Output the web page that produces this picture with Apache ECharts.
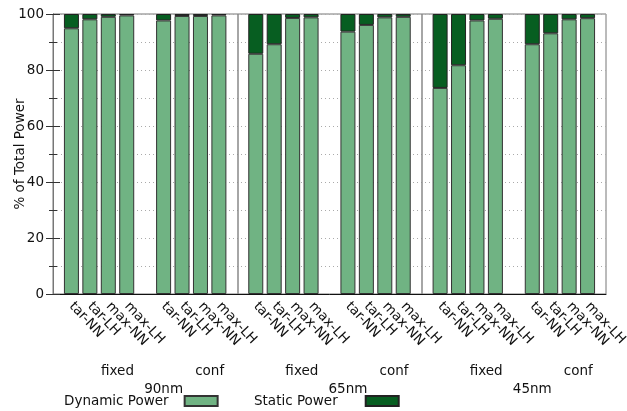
<!DOCTYPE html>
<html>
<head>
<meta charset="utf-8">
<script src="https://cdn.jsdelivr.net/npm/echarts@6/dist/echarts.min.js"></script>
<style>
  html, body { margin: 0; padding: 0; background: #fff; }
  #chart { width: 627px; height: 411px; }
</style>
</head>
<body>
<div id="chart"></div>
<script>
const configs = ['tar-NN', 'tar-LH', 'max-NN', 'max-LH'];
const modes = ['fixed', 'conf'];
const nodes = ['90nm', '65nm', '45nm'];

// % of total power, in order node -> mode -> config
const dynamicPower = [
  94.9, 98.1, 99.0, 99.5, 97.7, 99.3, 99.3, 99.5,
  85.8, 89.2, 98.6, 98.8, 93.7, 96.1, 98.8, 99.0,
  73.6, 81.7, 97.7, 98.3, 89.2, 93.1, 98.1, 98.5
];
const staticPower = [
  5.1, 1.9, 1.0, 0.5, 2.3, 0.7, 0.7, 0.5,
  14.2, 10.8, 1.4, 1.2, 6.3, 3.9, 1.2, 1.0,
  26.4, 18.3, 2.3, 1.7, 10.8, 6.9, 1.9, 1.5
];

const yTicks = [0, 20, 40, 60, 80, 100];

const font = 'DejaVu Sans';
const textColor = '#111';
const dynColor = '#70b383';
const statColor = '#075e21';

// slot layout: 31 slots, node n / mode s / config j sits at 10n + 5s + 1 + j
const slotCount = 31;
const slots = Array.from({ length: slotCount }, (_, i) => String(i));
const slotLabel = {};
const dynData = slots.map(() => '-');
const statData = slots.map(() => '-');
const modeLabel = {};
const nodeLabel = {};
nodes.forEach((node, n) => {
  nodeLabel[10 * n + 6] = node;
  modes.forEach((mode, s) => {
    modeLabel[10 * n + 5 * s + 3.5] = mode;
    configs.forEach((cfg, j) => {
      const k = n * 8 + s * 4 + j;
      const pos = 10 * n + 5 * s + 1 + j;
      slotLabel[pos] = cfg;
      dynData[pos] = dynamicPower[k];
      statData[pos] = staticPower[k];
    });
  });
});

const chart = echarts.init(document.getElementById('chart'));

const labelAxis = (offset, step, map) => ({
  type: 'value',
  position: 'bottom',
  offset: offset,
  min: 0,
  max: slotCount - 1,
  interval: step,
  axisLine: { show: false },
  axisTick: { show: false },
  splitLine: { show: false },
  axisLabel: {
    color: textColor,
    fontFamily: font,
    fontSize: 13.5,
    showMinLabel: true,
    showMaxLabel: true,
    formatter: v => map[v] || ''
  }
});

chart.setOption({
  animation: false,
  textStyle: { fontFamily: font },
  grid: {
    left: 53,
    right: 21,
    top: 14,
    bottom: 117,
    outerBoundsMode: 'none',
    show: true,
    borderColor: '#777',
    borderWidth: 1
  },
  legend: [
    {
      data: ['Dynamic Power'],
      left: 64,
      top: 394,
      padding: 0,
      align: 'right',
      icon: 'rect',
      itemWidth: 33,
      itemHeight: 10,
      textStyle: { color: textColor, fontFamily: font, fontSize: 13.5, padding: [0, 11, 0, 0] }
    },
    {
      data: ['Static Power'],
      left: 254,
      top: 394,
      padding: 0,
      align: 'right',
      icon: 'rect',
      itemWidth: 33,
      itemHeight: 10,
      textStyle: { color: textColor, fontFamily: font, fontSize: 13.5, padding: [0, 23, 0, 0] }
    }
  ],
  xAxis: [
    {
      type: 'category',
      data: slots,
      boundaryGap: false,
      axisLine: { lineStyle: { color: '#111', width: 1 } },
      axisTick: { show: false },
      splitLine: { show: false },
      axisLabel: {
        interval: 0,
        rotate: -47,
        margin: 10,
        color: textColor,
        fontFamily: font,
        fontSize: 13.5,
        formatter: v => slotLabel[v] || ''
      }
    },
    labelAxis(62, 0.5, modeLabel),
    labelAxis(80, 1, nodeLabel)
  ],
  yAxis: [
    {
      type: 'value',
      name: '% of Total Power',
      nameLocation: 'middle',
      nameGap: 26,
      nameMoveOverlap: false,
      nameTextStyle: { color: textColor, fontFamily: font, fontSize: 13.5 },
      min: yTicks[0],
      max: yTicks[yTicks.length - 1],
      interval: yTicks[1] - yTicks[0],
      axisLine: { show: true, lineStyle: { color: '#777' } },
      axisTick: { inside: true, length: 7, lineStyle: { color: '#333' } },
      minorTick: { show: true, splitNumber: 2, length: 4, lineStyle: { color: '#333' } },
      axisLabel: { color: textColor, fontFamily: font, fontSize: 13.5, margin: 9 },
      splitLine: { show: true, lineStyle: { color: '#aaa', type: [1, 3] } },
      minorSplitLine: { show: true, lineStyle: { color: '#aaa', type: [1, 3] } }
    },
    {
      type: 'value',
      position: 'right',
      min: yTicks[0],
      max: yTicks[yTicks.length - 1],
      interval: yTicks[1] - yTicks[0],
      axisLine: { show: true, lineStyle: { color: '#777' } },
      axisTick: { inside: true, length: 7, lineStyle: { color: '#333' } },
      minorTick: { show: true, splitNumber: 2, length: 4, lineStyle: { color: '#333' } },
      axisLabel: { show: false },
      splitLine: { show: false }
    }
  ],
  series: [
    {
      name: 'Dynamic Power',
      type: 'bar',
      stack: 'power',
      barWidth: 15,
      data: dynData,
      itemStyle: { color: dynColor, borderColor: '#333', borderWidth: 1 },
      markLine: {
        silent: true,
        symbol: 'none',
        label: { show: false },
        lineStyle: { color: '#888', type: 'solid', width: 1.5 },
        data: [{ xAxis: '10' }, { xAxis: '20' }]
      }
    },
    {
      name: 'Static Power',
      type: 'bar',
      stack: 'power',
      barWidth: 15,
      data: statData,
      itemStyle: { color: statColor, borderColor: '#222', borderWidth: 1 }
    }
  ]
});
</script>
</body>
</html>
